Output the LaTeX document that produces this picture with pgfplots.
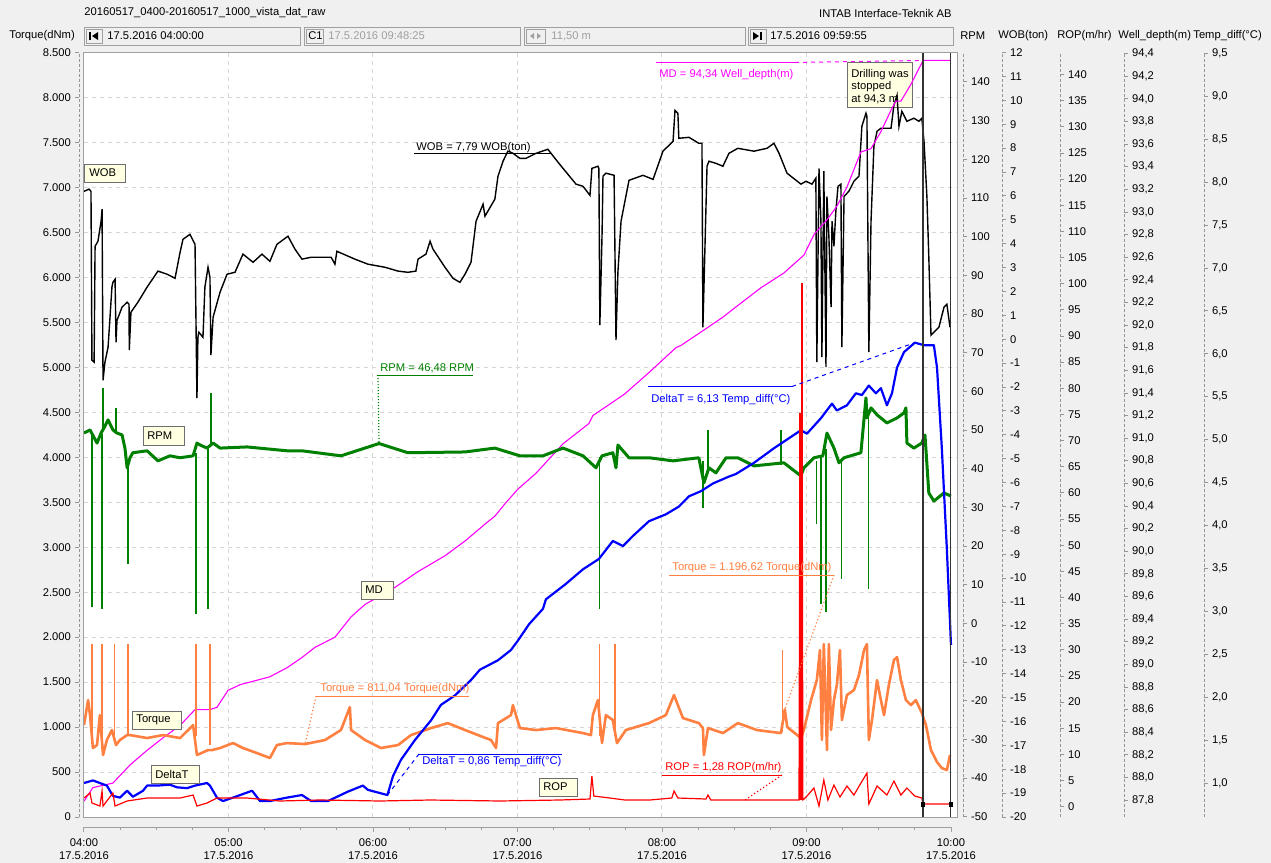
\documentclass[border=0pt]{standalone}
\usepackage{pgfplots}
\pgfplotsset{compat=1.18}
\usepackage{fontspec}
\setmainfont{Liberation Sans}

\definecolor{panel}{RGB}{240,240,240}
\definecolor{gridc}{RGB}{214,214,214}
\definecolor{framec}{RGB}{160,160,160}
\definecolor{scalec}{RGB}{150,150,150}
\definecolor{boxline}{RGB}{110,110,110}
\definecolor{tipfill}{RGB}{255,255,225}
\definecolor{dimtext}{RGB}{160,160,160}
\definecolor{wobc}{RGB}{0,0,0}
\definecolor{rpmc}{RGB}{0,128,0}
\definecolor{mdc}{RGB}{255,0,255}
\definecolor{torc}{RGB}{255,128,64}
\definecolor{dtc}{RGB}{0,0,255}
\definecolor{ropc}{RGB}{255,0,0}

\newcommand{\uifont}{\fontsize{5.6pt}{6.6pt}\selectfont}

\pgfplotsset{
  every tick label/.append style={font=\uifont},
  plotarea/.style={at={(42pt,-408.5pt)}, anchor=south west, scale only axis,
    width=436.5pt, height=382.25pt, xmin=0, xmax=362.5},
  dataaxis/.style={plotarea, hide axis, unbounded coords=jump},
  scaleaxis/.style={scale only axis, width=1pt, height=382.25pt, xmin=0, xmax=1,
    hide x axis, axis line style={scalec, dash pattern=on 1.5pt off 1pt},
    tick style={scalec, line width=0.4pt}, tick align=outside,
    major tick length=2pt, /pgf/number format/assume math mode=true},
  rightscale/.style={scaleaxis, axis y line*=right, anchor=south east},
}

\begin{document}
\uifont
\begin{tikzpicture}[font=\uifont]
\begin{scope}[x=0.5pt,y=-0.5pt]
  \fill[panel] (0,0) rectangle (1271,863);
\end{scope}

% plot area with dashed grid (one line per hour, one per 500 dNm)
\begin{axis}[plotarea, ymin=0, ymax=8500,
  axis background/.style={fill=white},
  axis line style={framec, line width=0.5pt},
  xtick={60,120,...,360}, ytick={500,1000,...,8000},
  xticklabels={}, yticklabels={}, tick style={draw=none},
  grid=major, grid style={gridc, dash pattern=on 2pt off 2pt, line width=0.5pt}]
\end{axis}

% tooltip sits under the curves
\begin{scope}[x=0.5pt,y=-0.5pt]
  \draw[boxline, fill=tipfill, line width=0.5pt] (847,62) rectangle (912,107);
  \node[anchor=base west, inner sep=0] at (851,77) {Drilling was};
  \node[anchor=base west, inner sep=0] at (851,89) {stopped};
  \node[anchor=base west, inner sep=0] at (851,102) {at 94,3 m};
\end{scope}

% WOB (ton)
\begin{axis}[dataaxis, ymin=-20, ymax=12]
\addplot[wobc, line width=0.7pt] coordinates {
(0,6.19) (2.1,6.28) (2.9,6.19) (3.3,-0.88) (4.2,-0.96) (4.6,3.89) (5.8,4.10) (7.1,4.94) (7.5,5.44) (7.9,-1.72)
(8.7,-0.96) (10.0,-0.33) (11.6,2.18) (12.0,2.38) (12.9,2.51) (13.3,-0.13) (13.7,0.79) (15.8,1.34) (17.9,1.55)
(18.7,1.46) (18.8,-0.46) (19.5,1.13) (22.4,1.55) (26.2,2.18) (30.7,2.85) (34.5,2.72) (37.8,2.55) (39.9,3.64)
(41.1,4.18) (44.0,4.39) (46.1,3.97) (46.9,-2.47) (47.3,0.08) (47.7,0.29) (49.4,0.08) (50.2,2.18) (51.5,3.01)
(52.3,2.59) (52.7,-0.67) (53.6,0.92) (56.5,1.97) (59.4,2.72) (62.7,2.80) (66.0,3.56) (70.2,3.22) (73.9,3.56)
(77.2,3.26) (80.1,3.97) (84.7,4.31) (87.6,3.77) (90.5,3.35) (94.3,3.43) (102.6,3.43) (104.2,3.14) (105.0,3.68)
(112.5,3.35) (117.9,3.14) (125.0,3.01) (130.4,2.85) (134.5,2.80) (137.8,2.85) (138.7,3.35) (142.0,3.56)
(143.7,4.10) (144.9,3.77) (149.9,3.01) (153.2,2.55) (156.1,2.38) (158.2,2.72) (160.7,3.22) (162.8,4.94)
(165.7,5.65) (166.5,5.15) (170.6,5.86) (171.9,6.82) (174.0,7.45) (176.0,7.87) (178.0,7.79) (181.0,7.57)
(183.5,7.57) (187.7,7.78) (192.6,7.95) (197.2,7.36) (204.3,6.49) (207.2,6.40) (210.1,6.02) (210.9,7.15)
(213.4,7.24) (213.8,7.15) (214.2,0.59) (215.1,4.31) (215.5,6.82) (216.7,6.95) (220.1,6.86) (220.9,-0.04)
(221.7,2.80) (223.0,4.94) (226.3,6.65) (232.1,6.86) (236.3,6.69) (240.4,7.87) (244.6,8.28) (245.4,9.58)
(246.6,9.46) (247.0,8.41) (251.2,8.45) (255.3,8.20) (256.6,8.20) (257.0,0.50) (258.7,7.24) (259.5,7.45)
(262.4,7.36) (265.3,7.24) (267.8,7.78) (271.5,7.99) (278.2,7.87) (283.6,7.99) (286.5,8.20) (288.6,7.78)
(291.9,6.95) (297.7,6.49) (299.8,6.61) (302.3,6.49) (303.9,6.74) (304.3,-0.96) (305.2,7.15) (306.0,4.94)
(306.4,-0.75) (307.2,7.03) (308.1,-1.17) (308.5,5.98) (309.3,4.31) (310.2,1.34) (310.6,4.94) (311.4,3.89)
(312.2,5.36) (313.1,6.40) (314.3,6.49) (314.7,-0.33) (315.6,5.98) (317.6,6.19) (319.7,6.61) (321.8,6.82)
(323.0,8.91) (324.7,9.46) (325.1,9.33) (325.9,-0.54) (326.8,4.94) (328.0,8.08) (329.3,8.70) (330.9,8.83)
(335.1,8.83) (336.3,9.79) (337.6,10.21) (338.4,8.91) (339.6,9.54) (341.7,9.12) (344.6,9.25) (346.7,9.12)
(347.9,9.25) (348.8,8.28) (350.0,5.98) (350.8,3.43) (351.7,0.17) (352.9,0.29) (355.0,0.50) (357.1,1.34)
(358.3,1.46) (359.6,0.50)
};
\coordinate (wobpt) at (axis cs:178.0,7.79);
\end{axis}

% MD, well depth (m)
\begin{axis}[dataaxis, ymin=87.65, ymax=94.41]
\addplot[mdc, line width=0.55pt] coordinates {
(0,87.79) (3.7,87.91) (12.0,87.95) (19.1,88.11) (26.2,88.24) (32.8,88.35) (39.9,88.46) (46.1,88.60)
(52.3,88.60) (55.2,88.62) (59.8,88.77) (64.8,88.82) (77.2,88.89) (84.3,88.97) (90.5,89.06) (95.9,89.15)
(104.2,89.24) (110.9,89.42) (116.7,89.53) (129.1,89.68) (138.7,89.82) (149.9,89.96) (158.2,90.09)
(166.5,90.24) (170.6,90.31) (174.8,90.42) (180.2,90.55) (187.7,90.69) (198.9,90.95) (209.7,91.13)
(211.3,91.20) (215.5,91.26) (223.8,91.38) (225.0,91.40) (234.6,91.58) (245.8,91.80) (247.9,91.82)
(257.0,91.95) (265.3,92.07) (270.7,92.16) (281.1,92.33) (290.6,92.46) (299.0,92.62) (303.1,92.80)
(308.5,92.93) (312.6,93.05) (316.8,93.22) (322.6,93.53) (326.8,93.56) (330.9,93.71) (335.1,93.90)
(337.1,93.98) (339.2,93.98) (343.4,94.13) (348.42,94.34) (360.0,94.34)
};
\coordinate (mdpt) at (axis cs:348.42,94.34);
\end{axis}

% RPM
\begin{axis}[dataaxis, ymin=-50.1, ymax=147.6]
\addplot[rpmc, line width=1.5pt, line join=round] coordinates {
(0,49.2) (2.5,50.0) (5.4,46.6) (7.1,49.2) (8.3,50.5) (10.0,52.6) (12.0,50.0) (13.7,49.2) (15.8,48.7)
(17.0,45.3) (17.9,40.2) (19.1,42.8) (20.3,44.1) (26.2,44.6) (30.7,42.0) (35.7,43.3) (39.9,42.8) (45.3,43.3)
(46.9,46.6) (48.2,46.1) (51.1,45.3) (53.6,46.6) (56.5,45.3) (67.7,45.6) (84.3,44.6) (90.5,44.6) (106.7,43.3)
(122.5,46.48) (134.5,44.1) (158.2,44.3) (170.6,45.3) (181.0,43.3) (190.6,43.3) (198.9,45.3) (207.2,43.3)
(212.6,40.2) (215.1,43.3) (219.6,44.1) (220.9,40.2) (221.7,46.1) (226.3,42.8) (234.6,42.8) (244.6,42.0)
(255.3,42.8) (257.4,36.3) (259.5,40.2) (262.4,38.9) (266.6,42.8) (271.5,42.8) (278.2,40.7) (290.6,41.5)
(297.7,38.1) (298.9,40.2) (303.1,42.8) (306.8,43.3) (308.5,49.2) (311.4,45.3) (313.5,41.5) (315.6,42.8)
(322.6,44.1) (324.7,58.3) (325.1,53.1) (326.8,55.7) (329.3,53.9) (333.4,51.8) (337.6,53.1) (340.5,54.4)
(341.3,55.7) (341.7,46.6) (344.6,45.3) (347.9,46.6) (349.2,48.7) (350.8,33.7) (352.9,31.6) (357.1,33.7)
(360.0,32.9)
};
\addplot[rpmc, line width=0.6pt] coordinates {
(3.3,49) (3.3,4.2) (3.4,nan) (7.5,49) (7.5,3.7) (7.6,nan) (7.9,50) (7.9,60.9) (8.0,nan)
(13.3,49) (13.3,55.7) (13.4,nan) (18.3,42) (18.3,15.3) (18.4,nan) (46.5,44) (46.5,2.4) (46.6,nan)
(51.5,45) (51.5,3.7) (51.6,nan) (52.7,46) (52.7,59.6) (52.8,nan) (214.2,43) (214.2,3.7) (214.3,nan)
(257.0,42) (257.0,29.8) (257.1,nan) (259.1,40) (259.1,50.0) (259.2,nan) (289.4,41) (289.4,50.0) (289.5,nan)
(304.3,42) (304.3,25.7) (304.4,nan) (306.0,43) (306.0,5.0) (306.1,nan) (308.1,45) (308.1,2.9) (308.2,nan)
(314.7,42) (314.7,11.4) (314.8,nan) (325.9,54) (325.9,8.8)
};
\coordinate (rpmpt) at (axis cs:122.5,46.48);
\end{axis}

% Torque (dNm)
\begin{axis}[dataaxis, ymin=0, ymax=8500]
\addplot[torc, line width=1.3pt, line join=round] coordinates {
(0,1022) (1.7,1300) (2.5,1133) (3.7,767) (5.4,800) (6.6,1133) (7.9,689) (9.5,856) (11.6,967) (13.3,800)
(14.9,856) (17.9,911) (19.1,911) (26.2,878) (32.8,911) (39.9,878) (45.3,1022) (46.9,689) (51.5,744)
(53.1,744) (56.5,767) (61.9,822) (66.0,767) (71.8,711) (77.2,656) (80.1,800) (84.3,822) (91.8,811.04)
(100.1,856) (106.7,967) (110.4,1222) (110.9,967) (116.7,856) (123.3,767) (130.4,800) (135.8,911)
(144.1,989) (151.1,1044) (158.2,967) (163.6,911) (169.0,856) (171.1,767) (171.9,1044) (177.3,1133)
(178.1,1244) (181.0,989) (187.7,967) (196.0,989) (207.2,933) (210.5,911) (211.3,1133) (213.4,1300)
(215.1,822) (216.7,1133) (219.6,1078) (221.3,822) (225.0,967) (234.6,1044) (241.6,1133) (245.0,1356)
(246.6,1244) (248.7,1100) (255.3,1044) (257.0,989) (257.4,689) (259.1,989) (265.3,933) (271.5,1044)
(279.4,967) (289.4,933) (291.0,1196.62) (292.0,1000) (297.7,878) (298.9,967) (301.9,1300) (304.3,1522)
(305.6,1856) (306.4,856) (307.2,1922) (308.5,744) (309.3,1922) (310.2,967) (311.4,1300) (312.6,1467)
(313.9,1856) (314.7,1078) (316.8,1356) (319.7,1411) (321.8,1578) (323.9,1856) (325.1,1922) (325.9,856)
(327.2,1078) (329.3,1522) (330.9,1300) (332.2,1133) (334.2,1467) (336.3,1744) (337.6,1778) (339.2,1522)
(341.3,1300) (343.4,1244) (345.4,1300) (347.9,1156) (349.6,1022) (351.7,744) (354.2,611) (356.2,544)
(358.3,522) (359.6,689)
};
\addplot[torc, line width=0.6pt] coordinates {
(3.3,950) (3.3,1922) (3.4,nan) (7.5,900) (7.5,1922) (7.6,nan) (12.5,900) (12.5,1922) (12.6,nan)
(18.3,900) (18.3,1922) (18.4,nan) (46.5,900) (46.5,1922) (46.6,nan) (52.3,800) (52.3,1922) (52.4,nan)
(214.2,900) (214.2,1922) (214.3,nan) (220.5,900) (220.5,1922) (220.6,nan) (290.2,950) (290.2,1856)
};
\coordinate (torApt) at (axis cs:291.0,1196.62);
\coordinate (torBpt) at (axis cs:91.8,811.04);
\end{axis}

% DeltaT, temperature difference (degC)
\begin{axis}[dataaxis, ymin=0.604, ymax=9.51]
\addplot[dtc, line width=1.1pt, line join=round] coordinates {
(0,1.00) (3.7,1.03) (6.6,1.00) (9.5,0.97) (12.0,0.85) (14.9,0.83) (17.9,0.91) (20.3,0.84) (24.5,0.91)
(26.2,0.97) (30.3,0.97) (35.7,0.98) (38.6,0.95) (42.8,0.94) (46.1,0.97) (51.1,1.00) (52.3,0.97) (55.2,0.83)
(57.7,0.79) (61.9,0.83) (69.8,0.91) (73.1,0.79) (77.2,0.79) (84.3,0.83) (90.5,0.86) (94.3,0.79) (101.3,0.79)
(109.6,0.90) (115.8,0.97) (117.9,0.92) (123.3,0.88) (126.0,0.86) (128.3,1.08) (131.6,1.27) (137.4,1.50)
(144.1,1.73) (148.2,1.91) (154.0,2.02) (160.7,2.20) (164.4,2.32) (171.9,2.43) (177.3,2.55) (180.2,2.66)
(184.8,2.85) (190.6,3.03) (191.8,3.14) (200.1,3.32) (207.2,3.49) (213.8,3.61) (219.6,3.82) (223.8,3.76)
(228.0,3.88) (234.6,4.05) (241.6,4.13) (247.0,4.22) (251.2,4.34) (256.2,4.40) (261.2,4.49) (267.8,4.57)
(270.7,4.60) (278.2,4.73) (286.5,4.90) (297.7,5.11) (300.2,5.07) (306.0,5.25) (310.6,5.42) (312.6,5.34)
(316.8,5.40) (320.5,5.54) (323.0,5.52) (325.9,5.63) (328.8,5.54) (330.9,5.60) (333.4,5.40) (335.5,5.54)
(337.6,5.84) (340.5,6.02) (345.0,6.13) (348.8,6.10) (352.9,6.10) (354.2,5.84) (356.2,4.90) (358.3,3.72)
(360.0,2.61)
};
\coordinate (dtApt) at (axis cs:345.0,6.13);
\coordinate (dtBpt) at (axis cs:126.0,0.86);
\end{axis}

% ROP (m/hr) and the two time cursors
\begin{axis}[dataaxis, ymin=-1.97, ymax=144.2]
\addplot[ropc, line width=0.6pt] coordinates {
(0,1.66) (2.5,2.61) (3.3,0.71) (6.6,0.13) (7.5,3.00) (7.9,0.13) (12.0,2.61) (12.9,0.13) (17.9,1.09)
(26.2,1.66) (39.9,1.66) (45.3,2.23) (46.9,0.13) (51.1,0.71) (55.2,1.66) (67.7,1.66) (81.4,1.09) (98.0,1.28)
(122.9,1.09) (143.7,1.28) (172.7,1.09) (197.6,1.28) (210.1,1.47) (210.9,5.86) (211.7,2.04) (218.4,1.66)
(224.6,1.28) (235.0,1.28) (244.1,1.66) (245.0,3.00) (246.6,1.66) (258.3,1.47) (259.1,2.23) (260.3,1.28)
(274.5,1.28) (296.9,1.28) (297.3,75.3) (297.7,1.28) (298.1,100.1) (298.5,1.28) (300.2,2.04) (303.1,3.57)
(305.2,0.13) (307.2,5.09) (308.9,1.28) (311.4,4.14) (313.9,1.85) (316.8,3.95) (319.7,2.23) (322.6,4.52)
(325.1,6.43) (325.9,0.52) (329.3,3.95) (333.4,2.23) (336.3,4.90) (339.2,2.23) (341.7,3.57) (345.0,2.04)
(347.9,1.66) (348.4,0.52) (360.0,0.52)
};
\addplot[ropc, line width=1.2pt] coordinates {(297.3,1.28) (297.3,75.3) (297.4,nan) (298.1,1.28) (298.1,100.1)};
\coordinate (roppt) at (axis cs:274.5,1.28);
\draw[black!80, line width=0.7pt] (axis cs:348.42,-1.97) -- (axis cs:348.42,144.2);
\draw[black!80, line width=0.7pt] (axis cs:359.92,-1.97) -- (axis cs:359.92,144.2);
\fill[black] (axis cs:348.42,144.2) ++(-1.1pt,0) rectangle ++(2.2pt,-2.5pt);
\fill[black] (axis cs:348.42,-1.97) ++(-1.1pt,0) rectangle ++(2.2pt,2.5pt);
\fill[black] (axis cs:359.92,144.2) ++(-1.1pt,0) rectangle ++(2.2pt,-2.5pt);
\fill[black] (axis cs:359.92,-1.97) ++(-1.1pt,0) rectangle ++(2.2pt,2.5pt);
\end{axis}

% value scales
\begin{axis}[scaleaxis, axis y line*=left, anchor=south west, at={(39.5pt,-408.5pt)},
  ymin=0, ymax=8500, ytick={0,500,...,8500}, scaled y ticks=false,
  /pgf/number format/fixed, /pgf/number format/precision=0,
  /pgf/number format/1000 sep={.}]
\end{axis}
\begin{axis}[rightscale, at={(481.5pt,-408.5pt)}, ymin=-50.1, ymax=147.6,
  ytick={-50,-40,...,140}]
\end{axis}
\begin{axis}[rightscale, at={(501pt,-408.5pt)}, ymin=-20, ymax=12,
  ytick={-20,-19,...,12}]
\end{axis}
\begin{axis}[rightscale, at={(530pt,-408.5pt)}, ymin=-1.97, ymax=144.2,
  ytick={0,5,...,140}]
\end{axis}
\begin{axis}[rightscale, at={(562pt,-408.5pt)}, ymin=87.65, ymax=94.41,
  ytick={87.8,88.0,88.2,88.4,88.6,88.8,89.0,89.2,89.4,89.6,89.8,90.0,90.2,90.4,90.6,90.8,91.0,
         91.2,91.4,91.6,91.8,92.0,92.2,92.4,92.6,92.8,93.0,93.2,93.4,93.6,93.8,94.0,94.2,94.4},
  /pgf/number format/use comma, /pgf/number format/fixed,
  /pgf/number format/fixed zerofill, /pgf/number format/precision=1]
\end{axis}
\begin{axis}[rightscale, at={(602pt,-408.5pt)}, ymin=0.604, ymax=9.51,
  ytick={1.0,1.5,2.0,2.5,3.0,3.5,4.0,4.5,5.0,5.5,6.0,6.5,7.0,7.5,8.0,8.5,9.0,9.5},
  /pgf/number format/use comma, /pgf/number format/fixed,
  /pgf/number format/fixed zerofill, /pgf/number format/precision=1]
\end{axis}

% time scale
\begin{axis}[at={(42pt,-413.5pt)}, anchor=south west, scale only axis,
  width=433.5pt, height=1pt, xmin=0, xmax=360, ymin=0, ymax=1,
  axis x line*=bottom, hide y axis, axis line style={framec},
  xtick={0,60,...,360}, minor xtick={15,30,...,345},
  tick align=outside, major tick length=2.5pt, minor tick length=1.5pt,
  tick style={framec, line width=0.5pt},
  xticklabels={{04:00\\17.5.2016},{05:00\\17.5.2016},{06:00\\17.5.2016},{07:00\\17.5.2016},
               {08:00\\17.5.2016},{09:00\\17.5.2016},{10:00\\17.5.2016}},
  xticklabel style={align=center, font=\uifont, inner sep=1pt, yshift=-2pt}]
\end{axis}

\begin{scope}[x=0.5pt,y=-0.5pt]
  % header
  \node[anchor=west, inner sep=0] at (84,13) {20160517\_0400-20160517\_1000\_vista\_dat\_raw};
  \node[anchor=east, inner sep=0] at (952,13) {INTAB Interface-Teknik AB};
  \node[anchor=west, inner sep=0] at (9,36) {Torque(dNm)};
  \draw[framec, line width=0.5pt] (84,27) rectangle (300,45);
  \draw[framec, line width=0.5pt] (86,29) rectangle (102,43);
  \draw[black, line width=0.6pt] (90,32) -- (90,40);
  \fill[black] (98,32) -- (92,36) -- (98,40) -- cycle;
  \node[anchor=west, inner sep=0] at (107,36) {17.5.2016 04:00:00};
  \draw[framec, line width=0.5pt] (304,27) rectangle (520,45);
  \draw[framec, line width=0.5pt] (306,29) rectangle (323,43);
  \node[anchor=west, inner sep=0] at (308,36) {C1};
  \node[anchor=west, inner sep=0, text=dimtext] at (328,36) {17.5.2016 09:48:25};
  \draw[framec, line width=0.5pt] (524,27) rectangle (745,45);
  \draw[framec, line width=0.5pt] (526,29) rectangle (545,43);
  \fill[dimtext] (534,33) -- (530,36) -- (534,39) -- cycle;
  \fill[dimtext] (537,33) -- (541,36) -- (537,39) -- cycle;
  \node[anchor=west, inner sep=0, text=dimtext] at (551,36) {11,50 m};
  \draw[framec, line width=0.5pt] (748,27) rectangle (953,45);
  \draw[framec, line width=0.5pt] (750,29) rectangle (766,43);
  \fill[black] (753,32) -- (759,36) -- (753,40) -- cycle;
  \draw[black, line width=0.6pt] (761,32) -- (761,40);
  \node[anchor=west, inner sep=0] at (770,36) {17.5.2016 09:59:55};
  \node[anchor=west, inner sep=0] at (960,36) {RPM};
  \node[anchor=west, inner sep=0] at (998,36) {WOB(ton)};
  \node[anchor=west, inner sep=0] at (1057,36) {ROP(m/hr)};
  \node[anchor=west, inner sep=0] at (1118,36) {Well\_depth(m)};
  \node[anchor=west, inner sep=0] at (1193,36) {Temp\_diff(°C)};

  % value readouts
  \node[anchor=base west, inner sep=0, text=wobc] at (416,150) {WOB = 7,79 WOB(ton)};
  \draw[wobc, line width=0.5pt] (414,153.5) -- (551,153.5);

  \node[anchor=base west, inner sep=0, text=rpmc] at (380,371) {RPM = 46,48 RPM};
  \draw[rpmc, line width=0.5pt] (377,375) -- (473,375);
  \draw[rpmc, line width=0.6pt, dash pattern=on 0.6pt off 0.9pt] (378,375) -- (rpmpt);

  \node[anchor=base west, inner sep=0, text=mdc] at (659,77) {MD = 94,34 Well\_depth(m)};
  \draw[mdc, line width=0.5pt] (656,62.5) -- (795,62.5);
  \draw[mdc, line width=0.5pt, dash pattern=on 2pt off 2pt] (795,62.5) -- (mdpt);

  \node[anchor=base west, inner sep=0, text=dtc] at (651,402) {DeltaT = 6,13 Temp\_diff(°C)};
  \draw[dtc, line width=0.5pt] (648,386.5) -- (792,386.5);
  \draw[dtc, line width=0.5pt, dash pattern=on 2pt off 2pt] (792,386.5) -- (dtApt);

  \node[anchor=base west, inner sep=0, text=torc] at (672,570) {Torque = 1.196,62 Torque(dNm)};
  \draw[torc, line width=0.5pt] (669,575) -- (834,575);
  \draw[torc, line width=0.6pt, dash pattern=on 0.6pt off 1.2pt] (834,575) -- (torApt);

  \node[anchor=base west, inner sep=0, text=torc] at (320,691) {Torque = 811,04 Torque(dNm)};
  \draw[torc, line width=0.5pt] (316,696) -- (469,696);
  \draw[torc, line width=0.6pt, dash pattern=on 0.6pt off 1.2pt] (316,696) -- (torBpt);

  \node[anchor=base west, inner sep=0, text=dtc] at (422,764) {DeltaT = 0,86 Temp\_diff(°C)};
  \draw[dtc, line width=0.5pt] (419,754) -- (562,754);
  \draw[dtc, line width=0.5pt, dash pattern=on 2pt off 2pt] (419,754) -- (dtBpt);

  \node[anchor=base west, inner sep=0, text=ropc] at (665,770) {ROP = 1,28 ROP(m/hr)};
  \draw[ropc, line width=0.5pt] (662,775) -- (782,775);
  \draw[ropc, line width=0.6pt, dash pattern=on 0.6pt off 1.2pt] (782,775) -- (roppt);

  % series name tags
  \draw[boxline, fill=tipfill, line width=0.5pt] (84,164) rectangle (125,182);
  \node[anchor=west, inner sep=0] at (89,173) {WOB};
  \draw[boxline, fill=tipfill, line width=0.5pt] (143,426) rectangle (184,445);
  \node[anchor=west, inner sep=0] at (147,435.5) {RPM};
  \draw[boxline, fill=tipfill, line width=0.5pt] (361,581) rectangle (393,599);
  \node[anchor=west, inner sep=0] at (365,590) {MD};
  \draw[boxline, fill=tipfill, line width=0.5pt] (132,711) rectangle (181,729);
  \node[anchor=west, inner sep=0] at (136,720) {Torque};
  \draw[boxline, fill=tipfill, line width=0.5pt] (151,765) rectangle (199,783);
  \node[anchor=west, inner sep=0] at (155,774) {DeltaT};
  \draw[boxline, fill=tipfill, line width=0.5pt] (539,778) rectangle (577,796);
  \node[anchor=west, inner sep=0] at (543,787) {ROP};
\end{scope}

\pgfresetboundingbox
\path[use as bounding box] (0,0) rectangle (635.5pt,-431.5pt);
\end{tikzpicture}
\end{document}
